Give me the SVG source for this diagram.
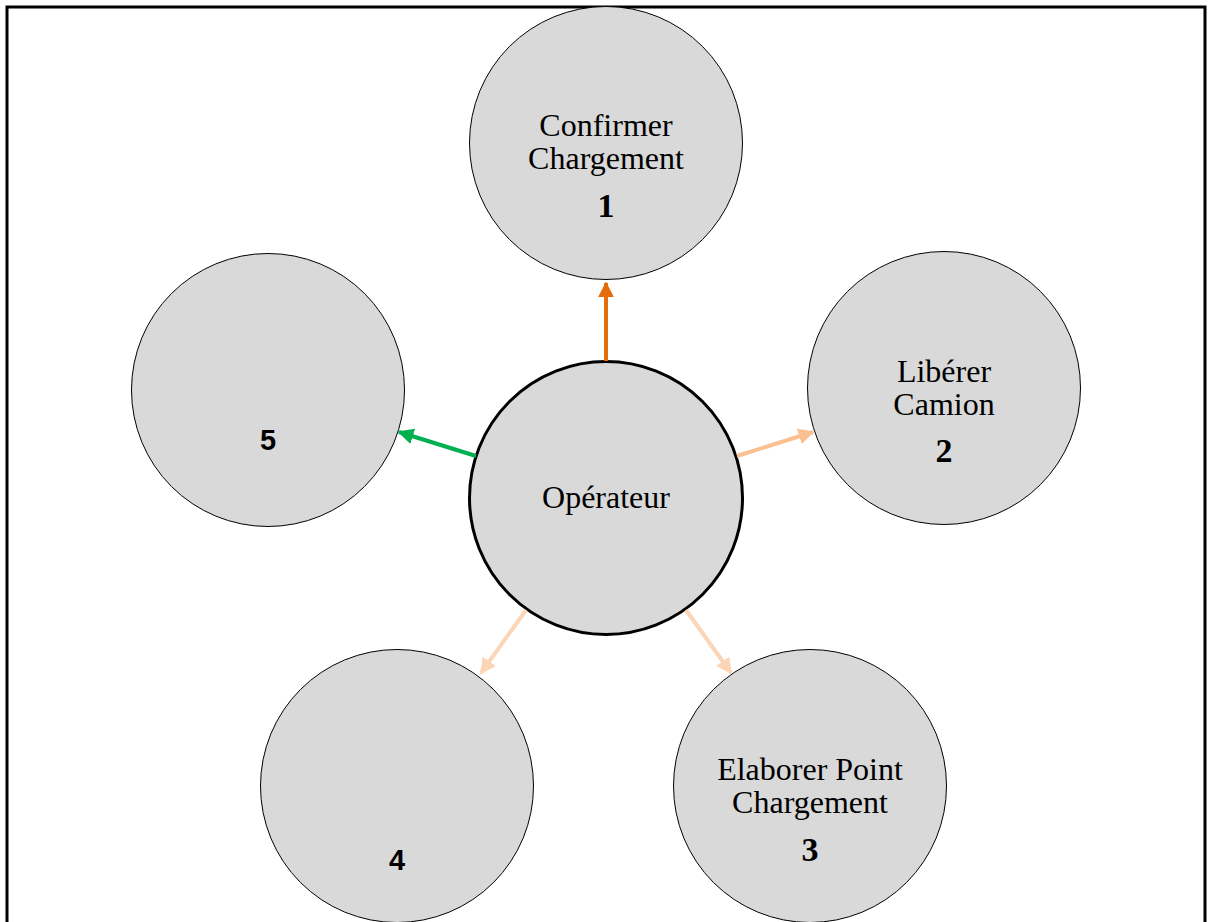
<svg xmlns="http://www.w3.org/2000/svg" width="1210" height="922" viewBox="0 0 1210 922">
<style>
.c{fill:#d9d9d9;stroke:#000;stroke-width:1}
.c0{fill:#d9d9d9;stroke:#000;stroke-width:3}
.t{font-family:"Liberation Serif",serif;font-size:32px;text-anchor:middle;fill:#000}
.n{font-family:"Liberation Serif",serif;font-size:34px;font-weight:bold;text-anchor:middle}
.s{font-family:"Liberation Sans",Arial,sans-serif;font-size:29px;font-weight:bold;text-anchor:middle}
</style>
<defs>
<marker id="m1" viewBox="0 0 10 10" refX="9" refY="5" markerWidth="4" markerHeight="4" orient="auto"><path d="M0,0L10,5L0,10z" fill="#e46c0a"/></marker>
<marker id="m2" viewBox="0 0 10 10" refX="9" refY="5" markerWidth="4" markerHeight="4" orient="auto"><path d="M0,0L10,5L0,10z" fill="#fac090"/></marker>
<marker id="m3" viewBox="0 0 10 10" refX="9" refY="5" markerWidth="4" markerHeight="4" orient="auto"><path d="M0,0L10,5L0,10z" fill="#00b050"/></marker>
<marker id="m4" viewBox="0 0 10 10" refX="9" refY="5" markerWidth="4" markerHeight="4" orient="auto"><path d="M0,0L10,5L0,10z" fill="#fcd5b5"/></marker>
</defs>
<rect x="0" y="0" width="1210" height="922" fill="#fff"/>
<path d="M7,925V7H1205V925" fill="none" stroke="#000" stroke-width="3"/>
<g id="n1"><circle class="c" cx="606" cy="143" r="136.5"/><text class="t" x="606" y="136">Confirmer</text><text class="t" x="606" y="169">Chargement</text><text class="n" x="606" y="217">1</text></g>
<g id="n2"><circle class="c" cx="944" cy="388" r="136.5"/><text class="t" x="944" y="382">Libérer</text><text class="t" x="944" y="415">Camion</text><text class="n" x="944" y="462">2</text></g>
<g id="n3"><circle class="c" cx="810" cy="786" r="136.5"/><text class="t" x="810" y="780">Elaborer Point</text><text class="t" x="810" y="813">Chargement</text><text class="n" x="810" y="861">3</text></g>
<g id="n4"><circle class="c" cx="397" cy="786" r="136.5"/><text class="s" x="397" y="870">4</text></g>
<g id="n5"><circle class="c" cx="268" cy="390" r="136.5"/><text class="s" x="268" y="450">5</text></g>
<g id="n0"><circle class="c0" cx="606" cy="498" r="136.5"/><text class="t" x="606" y="508">Opérateur</text></g>
<g id="connectors" fill="none" stroke-width="4">
<line x1="606" y1="361" x2="606" y2="283" stroke="#e46c0a" marker-end="url(#m1)"/>
<line x1="737" y1="456" x2="813" y2="432" stroke="#fac090" marker-end="url(#m2)"/>
<line x1="476" y1="456" x2="399" y2="432" stroke="#00b050" marker-end="url(#m3)"/>
<line x1="526" y1="610" x2="481" y2="673" stroke="#fcd5b5" marker-end="url(#m4)"/>
<line x1="686" y1="610" x2="731" y2="673" stroke="#fcd5b5" marker-end="url(#m4)"/>
</g>
</svg>
